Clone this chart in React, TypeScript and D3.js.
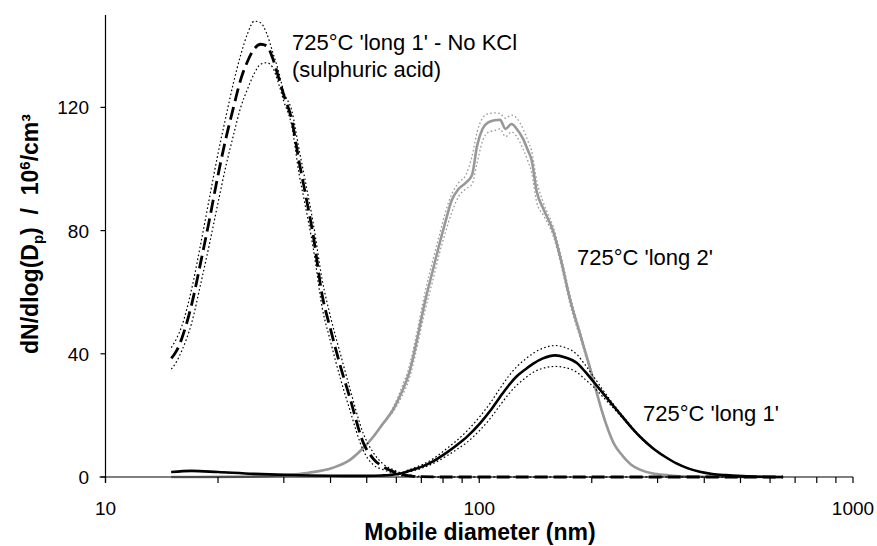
import React from "react";
import * as d3 from "d3";

// ---- data ----
const noKclD = [15,15.5,16,17,18,19,20,21,22,23,24,25,26,27,28,29,30,31.5,33,34,36,38,40,42.5,45,49,52,55,59,62,66,70,80,100,150,200,300,400,500,650];
const noKclMean = [38.5,41,45,56,70,84,98,110,120,129,135,139,140.5,140,136,130,124,116,102,94,78,59,48,36,26,11,6,3.5,1.7,0.8,0.3,0.1,0,0,0,0,0,0,0,0];
const noKclUpper = [42,45,49,61,76,91,105,117,128,137,144,148,147.5,144,138,132,125,119,106,98,82,64,52,40,29,14,8,4.5,2.3,1.2,0.5,0.2,0,0,0,0,0,0,0,0];
const noKclLower = [35,37.5,41,50,63,76,89,101,111,120,126,131,134,134.5,133,128,122,114,98,90,74,55,44,32,22,8.5,4,2.5,1.2,0.4,0.1,0,0,0,0,0,0,0,0,0];

const long2D = [15,20,25,30,35,40.6,45,49,52,55,58.9,62,65,68,71.6,75,78,81,84.5,88,92,95.6,98.7,102,106,110,113.7,117.5,122,126,131,135,138,142.6,148.5,158,165,175,188,202,206.6,219.6,230,238.8,255,270,290,318,350,400,500,650];
const long2Mean = [0,0.05,0.2,0.6,1.4,3.0,5.5,9.5,13,17,22,27.5,34,44,57,66.8,75,82.4,90,93.5,95.5,98,107.6,113,115.2,115.8,116,113,114.6,113,109.8,106,103,92.5,87,79.5,71,57.6,44.6,31.5,27,16.4,10.5,7.7,4,2.3,1.2,0.6,0.2,0.1,0,0];
const long2Upper = [0,0.05,0.2,0.6,1.4,3.0,5.5,9.5,13,17,22.7,29,36,46.5,60,70,78,85.5,92,95.5,98,104,112,116.5,118,118.2,118,116.5,117.5,116.5,113,109,106,96,89,81,72.5,59,45.5,32,27.5,16.6,10.5,7.7,4,2.3,1.2,0.6,0.2,0.1,0,0];
const long2Lower = [0,0.05,0.2,0.6,1.4,3.0,5.5,9.5,13,17,21.3,26,32,41.5,54,63.5,72,79,86,91,93.5,95,102,109,112,112.5,113,110.5,112,110.5,106.5,102.5,99,89,85,78,69.5,56,43.5,30.5,26.5,16.2,10.5,7.7,4,2.3,1.2,0.6,0.2,0.1,0,0];

const long1D = [15,17,20,25,30,35,40,50,55,60,62,65,70,75,82,87,92.8,100.6,107,113.7,120,126,133,139.5,148,159.7,170,182.5,192,202,215,228,243,258,275,292.5,315,337,362,389,420,458,520,650];
const long1Mean = [1.6,2.0,1.6,1.0,0.7,0.5,0.4,0.35,0.5,0.9,1.2,2.0,3.3,5.0,8.0,10.3,13.1,17.5,21.5,26,29.8,32.7,35,36.8,38.5,39.5,38.8,37,34.2,31,27,23.2,19.2,15.5,12,9.2,6.5,4.4,2.8,1.7,1.0,0.6,0.2,0];
const long1Upper = [1.6,2.0,1.6,1.0,0.7,0.5,0.4,0.35,0.5,0.9,1.4,2.4,3.9,5.8,9.3,11.8,15,19.8,24,28.8,32.8,35.8,38.3,40.2,41.8,42.7,42,39.8,36.4,32.7,28,23.8,19.6,15.8,12.2,9.3,6.5,4.4,2.8,1.7,1.0,0.6,0.2,0];
const long1Lower = [1.6,2.0,1.6,1.0,0.7,0.5,0.4,0.35,0.5,0.9,1.0,1.7,2.8,4.3,6.9,8.9,11.3,15.3,19,23.3,27,29.8,32.2,34,35.3,35.9,35.5,34,31.7,29.3,25.8,22.5,18.8,15.2,11.8,9.1,6.5,4.4,2.8,1.7,1.0,0.6,0.2,0];

const yTicks = [0, 40, 80, 120];
const xMajor = [10, 100, 1000];
const xMinor = [20,30,40,50,60,70,80,90,200,300,400,500,600,700,800,900];

const labelNoKcl1 = "725°C 'long 1' - No KCl";
const labelNoKcl2 = "(sulphuric acid)";
const labelLong2 = "725°C 'long 2'";
const labelLong1 = "725°C 'long 1'";
const xTitle = "Mobile diameter (nm)";

const W = 877, H = 546;
const FONT = "'Liberation Sans', Arial, Helvetica, sans-serif";

export default function App() {
  const x = d3.scaleLog().domain([10, 1000]).range([105.5, 853]);
  const y = d3.scaleLinear().domain([0, 150]).range([477, 15]);

  const mk = (ds: number[], vs: number[]) =>
    d3.line<number>().x((_, i) => x(ds[i])).y((v) => y(v)).curve(d3.curveMonotoneX)(vs) || "";

  const gray = "#989898";
  const dotted = "1.6 2.4";

  return (
    <svg width={W} height={H} style={{ position: "absolute", left: 0, top: 0, background: "#fff" }} fontFamily={FONT}>
      <rect x={0} y={0} width={W} height={H} fill="#fff" />
      {/* long 2 (gray) */}
      <path d={mk(long2D, long2Upper)} fill="none" stroke={gray} strokeWidth={1.3} strokeDasharray={dotted} />
      <path d={mk(long2D, long2Lower)} fill="none" stroke={gray} strokeWidth={1.3} strokeDasharray={dotted} />
      <path d={mk(long2D, long2Mean)} fill="none" stroke={gray} strokeWidth={2.6} />
      {/* long 1 (black solid) */}
      <path d={mk(long1D, long1Upper)} fill="none" stroke="#000" strokeWidth={1.2} strokeDasharray={dotted} />
      <path d={mk(long1D, long1Lower)} fill="none" stroke="#000" strokeWidth={1.2} strokeDasharray={dotted} />
      <path d={mk(long1D, long1Mean)} fill="none" stroke="#000" strokeWidth={2.6} />
      {/* No KCl (black dashed) */}
      <path d={mk(noKclD, noKclUpper)} fill="none" stroke="#000" strokeWidth={1.2} strokeDasharray={dotted} />
      <path d={mk(noKclD, noKclLower)} fill="none" stroke="#000" strokeWidth={1.2} strokeDasharray={dotted} />
      <path d={mk(noKclD, noKclMean)} fill="none" stroke="#000" strokeWidth={2.8} strokeDasharray="13 6" />

      {/* axes */}
      <line x1={x(10)} x2={x(10)} y1={y(150)} y2={y(0) + 6} stroke="#000" strokeWidth={1.2} />
      <line x1={x(10) - 6} x2={x(1000)} y1={y(0)} y2={y(0)} stroke="#000" strokeWidth={1.2} />
      {yTicks.map((t) => (
        <g key={"y" + t}>
          <line x1={x(10) - 5} x2={x(10)} y1={y(t)} y2={y(t)} stroke="#000" strokeWidth={1.2} />
          <text x={89} y={y(t) + 7} textAnchor="end" fontSize={19}>{t}</text>
        </g>
      ))}
      {xMajor.map((t) => (
        <g key={"x" + t}>
          <line x1={x(t)} x2={x(t)} y1={y(0)} y2={y(0) + 6} stroke="#000" strokeWidth={1.2} />
          <text x={x(t)} y={515} textAnchor="middle" fontSize={19}>{t}</text>
        </g>
      ))}
      {xMinor.map((t) => (
        <line key={"m" + t} x1={x(t)} x2={x(t)} y1={y(0)} y2={y(0) + 6} stroke="#000" strokeWidth={1.2} />
      ))}

      {/* titles */}
      <text x={480} y={540} textAnchor="middle" fontSize={23} fontWeight="bold">{xTitle}</text>
      <text transform="translate(38,234) rotate(-90)" textAnchor="middle" fontSize={23} fontWeight="bold" style={{ whiteSpace: "pre" }}>
        dN/dlog(D<tspan fontSize={15} dy={5}>p</tspan><tspan dy={-5}>)  /  10</tspan><tspan fontSize={15} dy={-8}>6</tspan><tspan dy={8}>/cm³</tspan>
      </text>

      {/* annotations */}
      <text x={292} y={50} fontSize={22}>{labelNoKcl1}</text>
      <text x={292} y={77} fontSize={22}>{labelNoKcl2}</text>
      <text x={577} y={265} fontSize={22}>{labelLong2}</text>
      <text x={643} y={421} fontSize={22}>{labelLong1}</text>
    </svg>
  );
}
